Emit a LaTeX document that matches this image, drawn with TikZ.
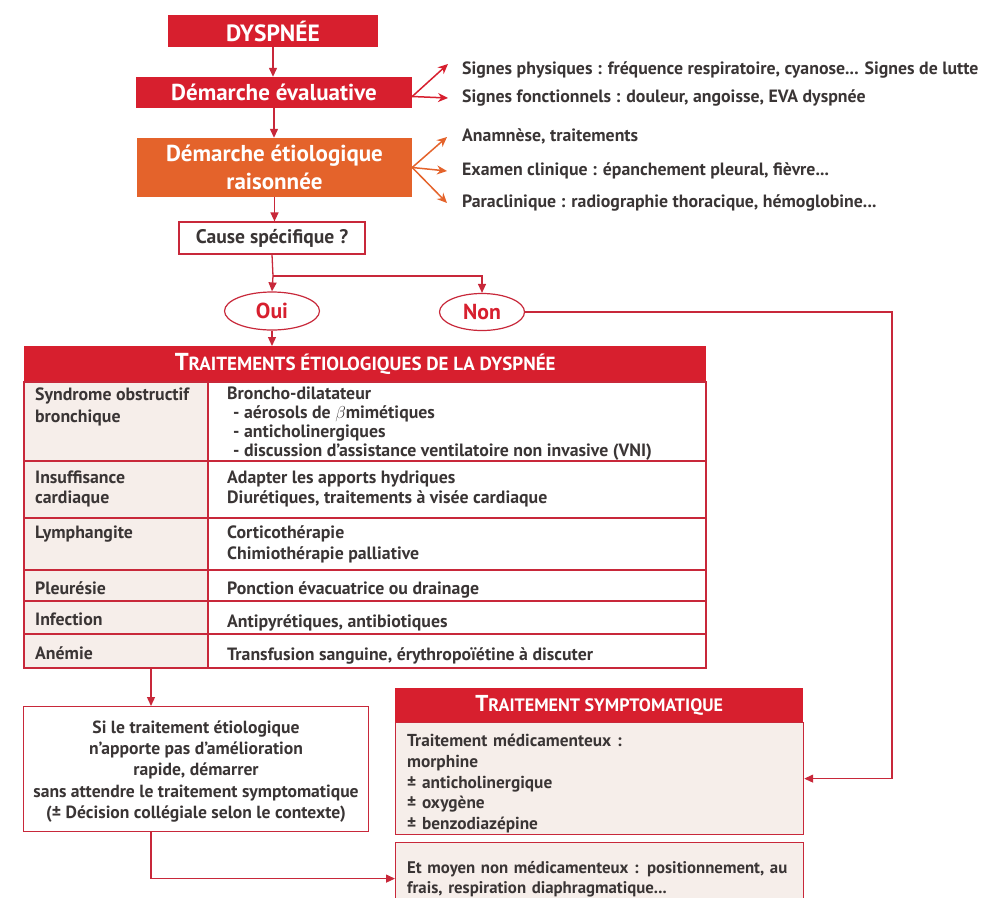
\documentclass[tikz,border=0pt]{standalone}
\usepackage{fontspec}
\setmainfont{PT Sans}
\usetikzlibrary{arrows.meta,shapes.geometric}

\definecolor{dyred}{HTML}{D71F2E}
\definecolor{dyorange}{HTML}{E4632B}
\definecolor{dyline}{HTML}{C8283A}
\definecolor{dytext}{HTML}{3A3535}
\definecolor{dybeige}{HTML}{F6EEEA}

\newcommand{\capinit}[1]{{\fontsize{24.5}{18}\selectfont #1}}
\newcommand{\capinitsm}[1]{{\fontsize{23}{18}\selectfont #1}}

\tikzset{
  conn/.style={draw=dyline, line width=1.3pt},
  tip/.style={-{Triangle[width=8pt,length=9pt]}},
  sidetip/.style={-{Stealth[width=9pt,length=10pt]}, line width=1.5pt},
  redbox/.style={fill=dyred, text=white, inner sep=0pt, align=center,
    font=\bfseries\fontsize{23}{28}\selectfont},
  causebox/.style={draw=dyline, line width=1.2pt, fill=white, text=dytext,
    font=\bfseries\fontsize{19.6}{22}\selectfont},
  choice/.style={ellipse, draw=dyline, line width=1.2pt, fill=white, text=dyred,
    inner sep=0pt, font=\bfseries\fontsize{21.7}{22}\selectfont},
  side/.style={anchor=west, inner sep=0pt, text height=12.5pt, text depth=4.5pt,
    text=dytext, font=\bfseries\fontsize{17.8}{20}\selectfont},
  hdbox/.style={fill=dyred, text=white, inner sep=0pt, anchor=north west,
    font=\bfseries\fontsize{19}{20}\selectfont},
  tabline/.style={draw=dyline, line width=1.1pt},
  cell/.style={anchor=north west, align=left, inner sep=0pt, text=dytext,
    font=\bfseries\fontsize{17.8}{20}\selectfont},
  framebox/.style={draw=dyline, line width=1.2pt, anchor=north west},
  boxtext/.style={inner sep=0pt, text=dytext, font=\bfseries\fontsize{17.3}{20.8}\selectfont},
}

\begin{document}
\begin{tikzpicture}[x=1pt,y=-1pt]
\useasboundingbox (0,0) rectangle (984,897);
\clip (0,0) rectangle (984,897);

% flow
\node[redbox, font=\bfseries\fontsize{23.5}{28}\selectfont, minimum width=210pt, minimum height=32pt] (dysp) at (273,31) {DYSPNÉE};
\node[redbox, minimum width=276pt, minimum height=31pt] (evalu) at (274,92.5) {Démarche évaluative};
\node[redbox, fill=dyorange, minimum width=275pt, minimum height=59pt] (etio) at (274.5,167.5) {Démarche étiologique\\raisonnée};
\node[causebox, minimum width=186pt, minimum height=32pt] (cause) at (272,238) {Cause spécifique ?};
\node[choice, minimum width=95pt, minimum height=38pt] (oui) at (272,311) {Oui};
\node[choice, minimum width=85pt, minimum height=37pt] (non) at (482,312) {Non};
\coordinate (split) at (273,276);

\draw[conn,tip] (dysp.south) -- (dysp.south |- evalu.north);
\draw[conn,tip] (evalu.south) -- (evalu.south |- etio.north);
\draw[conn,tip] (etio.south) -- (etio.south |- cause.north);
\draw[conn] (cause.south) -- (split);
\draw[conn,tip] (split) -- (oui.north);
\draw[conn,tip] (split) -| (non.north);

% side notes
\node[side] (sp) at (462,70) {Signes physiques : fréquence respiratoire, cyanose... Signes de lutte};
\node[side] (sf) at (462,98) {Signes fonctionnels : douleur, angoisse, EVA dyspnée};
\node[side] (an) at (462,137) {Anamnèse, traitements};
\node[side] (ex) at (462,171) {Examen clinique : épanchement pleural, fièvre...};
\node[side] (pa) at (462,203) {Paraclinique : radiographie thoracique, hémoglobine...};

\draw[sidetip, draw=dyred] ([yshift=-4pt]evalu.east) -- ([xshift=-14pt,yshift=6pt]sp.west);
\draw[sidetip, draw=dyred] ([yshift=-4pt]evalu.east) -- ([xshift=-14pt]sf.west);
\draw[sidetip, draw=dyorange] (etio.east) -- ([xshift=-15pt]an.west);
\draw[sidetip, draw=dyorange] (etio.east) -- ([xshift=-15pt]ex.west);
\draw[sidetip, draw=dyorange] (etio.east) -- ([xshift=-15pt]pa.west);

% table
\node[hdbox, minimum width=682pt, minimum height=36pt] (tabhd) at (24,346) {\capinit{T}RAITEMENTS ÉTIOLOGIQUES DE LA DYSPNÉE};
\draw[conn,tip] (oui.south) -- (oui.south |- tabhd.north);
\fill[dybeige] (24,382) rectangle (208,668);
\draw[tabline] (24,382) rectangle (706,461);
\draw[tabline] (24,461) rectangle (706,518);
\draw[tabline] (24,518) rectangle (706,570);
\draw[tabline] (24,570) rectangle (706,601);
\draw[tabline] (24,601) rectangle (706,634);
\draw[tabline] (24,634) rectangle (706,668);
\draw[tabline] (208,382) -- (208,668);

\node[cell, font=\bfseries\fontsize{17.8}{22}\selectfont] (obsl) at (35,388) {Syndrome obstructif\\bronchique};
\node[cell, font=\bfseries\fontsize{17.8}{19}\selectfont] (obsr) at (227,387) {Broncho-dilatateur\\\hspace*{6pt}- aérosols de $\beta$mimétiques\\\hspace*{6pt}- anticholinergiques\\\hspace*{6pt}- discussion d'assistance ventilatoire non invasive (VNI)};
\node[cell] (cardl) at (35,471) {Insuffisance\\cardiaque};
\node[cell] (cardr) at (227,471) {Adapter les apports hydriques\\Diurétiques, traitements à visée cardiaque};
\node[cell, font=\bfseries\fontsize{17.8}{21}\selectfont] (lyml) at (35,526) {Lymphangite};
\node[cell, font=\bfseries\fontsize{17.8}{21}\selectfont] (lymr) at (227,525) {Corticothérapie\\Chimiothérapie palliative};
\node[cell] (pleul) at (35,581) {Pleurésie};
\node[cell] (pleur) at (227,581) {Ponction évacuatrice ou drainage};
\node[cell] (infl) at (35,613) {Infection};
\node[cell] (infr) at (227,614) {Antipyrétiques, antibiotiques};
\node[cell] (anel) at (35,646) {Anémie};
\node[cell] (aner) at (227,647) {Transfusion sanguine, érythropoïétine à discuter};

% bottom
\coordinate (tabout) at (151,668);
\node[framebox, fill=white, minimum width=345pt, minimum height=125pt] (sibox) at (23,706) {};
\node[boxtext, align=center, font=\bfseries\fontsize{17.6}{21.2}\selectfont] (sitxt) at (196,771.5)
  {Si le traitement étiologique\\n'apporte pas d'amélioration\\rapide, démarrer\\sans attendre le traitement symptomatique\\(± Décision collégiale selon le contexte)};
\draw[conn,tip] (tabout) -- (tabout |- sibox.north);

\node[framebox, fill=dybeige, minimum width=408pt, minimum height=72pt] (sym2) at (395,842) {};
\node[boxtext, anchor=west, text width=392pt, align=left, font=\bfseries\fontsize{16.8}{19.5}\selectfont] (sym2txt) at (407,879)
  {Et moyen non médicamenteux : positionnement, au\\frais, respiration diaphragmatique...};
\node[framebox, fill=dybeige, minimum width=408pt, minimum height=112pt] (sym1) at (395,722) {};
\node[boxtext, anchor=west, text width=390pt, align=left] (sym1txt) at (407,783.5)
  {Traitement médicamenteux :\\morphine\\± anticholinergique\\± oxygène\\± benzodiazépine};
\node[hdbox, font=\bfseries\fontsize{18}{20}\selectfont, minimum width=408pt, minimum height=34pt] (symhd) at (395,688) {\capinitsm{T}RAITEMENT SYMPTOMATIQUE};

\coordinate (nonturn) at (892,312);
\draw[conn,tip] (non.east) -- (nonturn) |- (sym1.east);
\draw[conn,tip] (sibox.south -| tabout) |- (sym2.west);
\end{tikzpicture}
\end{document}
